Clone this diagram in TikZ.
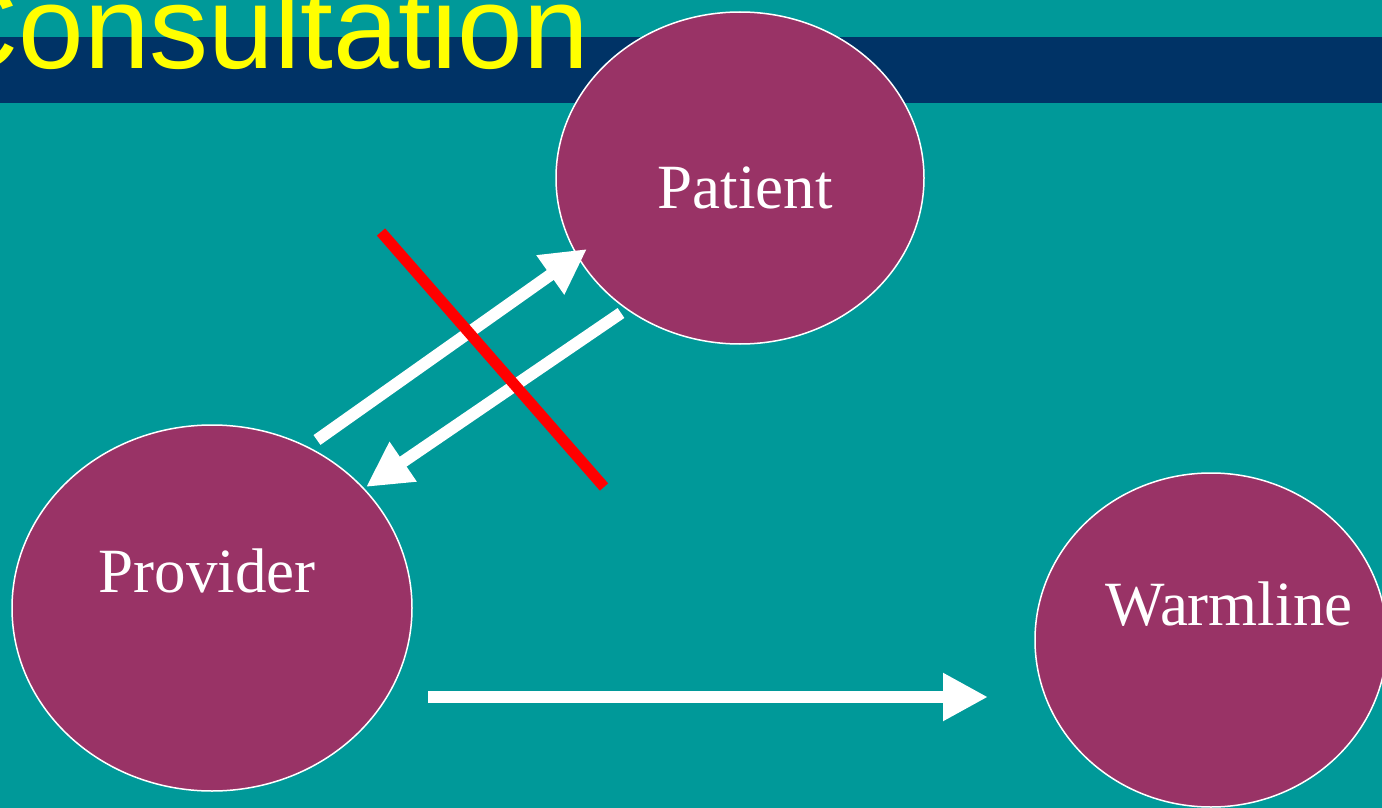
\documentclass[tikz,border=0pt]{standalone}
\usepackage{fontspec}
\setmainfont{Liberation Serif}
\newfontfamily\titlefont{Liberation Sans}
\usetikzlibrary{shapes.geometric,arrows.meta}
\definecolor{slidebg}{HTML}{009999}
\definecolor{barblue}{HTML}{003366}
\definecolor{plum}{HTML}{993366}
\definecolor{titleyellow}{HTML}{FFFF00}

\begin{document}
\begin{tikzpicture}[x=1pt,y=-1pt]
  \def\hl{45pt};
  \def\lw{12pt}

\tikzstyle{bubble}=[ellipse,fill=plum,draw=white,line width=1.5pt,inner sep=0pt]
\tikzstyle{bubbletext}=[text=white,font=\fontsize{63}{70}\selectfont,anchor=base,inner sep=0pt]
\tikzstyle{flow}=[draw=white,line width=\lw,-{Triangle[length=\hl,width=\hl]}]
\useasboundingbox (0,0) rectangle (1382,808);
\clip (0,0) rectangle (1382,808);
\fill[slidebg] (0,0) rectangle (1382,808);
\fill[barblue] (0,37) rectangle (1382,103);
\node[text=titleyellow,font=\titlefont\fontsize{118}{130}\selectfont,anchor=base west,inner sep=0pt] (title) at (-67,68.5) {Consultation};
\node[bubble,minimum width=368pt,minimum height=332pt] (patient) at (740,178) {};
\node[bubbletext] (patientname) at (745,208) {Patient};
\node[bubble,minimum width=400pt,minimum height=366pt] (provider) at (212,608) {};
\node[bubbletext] (providername) at (207,592) {Provider};
\node[bubble,minimum width=352pt,minimum height=334pt] (warmline) at (1211,640) {};
\node[bubbletext] (warmlinename) at (1229,625) {Warmline};
\coordinate (up0) at (317,440);
\coordinate (up1) at (587,249);
\coordinate (dn0) at (621,313);
\coordinate (dn1) at (366,487);
\coordinate (ac0) at (428,697);
\coordinate (ac1) at (988,697);
\coordinate (cut0) at (381,232);
\coordinate (cut1) at (604,487);
\draw[flow] (up0) -- (up1);
\draw[flow] (dn0) -- (dn1);
\draw[flow] (ac0) -- (ac1);
\draw[red,line width=11pt] (cut0) -- (cut1);
\end{tikzpicture}
\end{document}
